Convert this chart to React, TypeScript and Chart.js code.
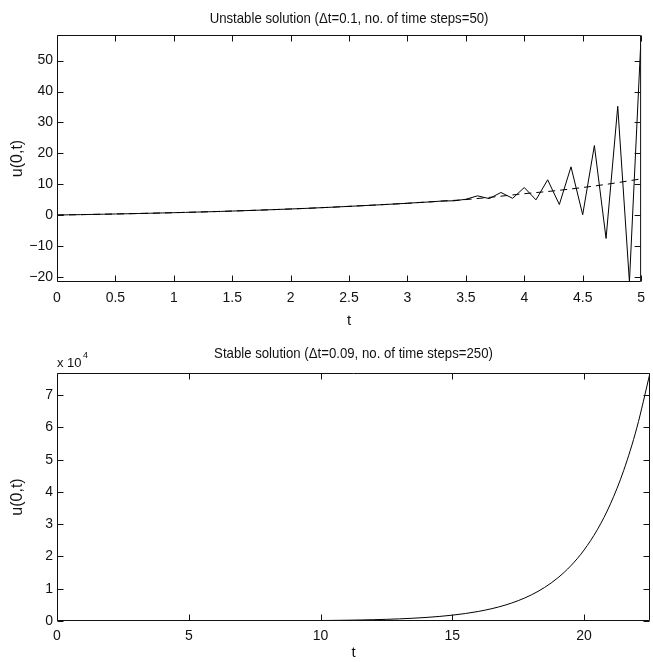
import React, { useEffect, useRef } from "react";
import { Chart, registerables } from "chart.js";
Chart.register(...registerables);

// ---------- data ----------
const unstableT = [
  0, 0.1, 0.2, 0.3, 0.4, 0.5, 0.6, 0.7, 0.8, 0.9,
  1.0, 1.1, 1.2, 1.3, 1.4, 1.5, 1.6, 1.7, 1.8, 1.9,
  2.0, 2.1, 2.2, 2.3, 2.4, 2.5, 2.6, 2.7, 2.8, 2.9,
  3.0, 3.1, 3.2, 3.3, 3.4, 3.5, 3.6, 3.7, 3.8, 3.9,
  4.0, 4.1, 4.2, 4.3, 4.4, 4.5, 4.6, 4.7, 4.8, 4.9, 5.0,
];
const unstableU = [
  0, 0.06, 0.12, 0.19, 0.26, 0.33, 0.41, 0.49, 0.57, 0.66,
  0.75, 0.85, 0.95, 1.05, 1.16, 1.28, 1.4, 1.53, 1.67, 1.81,
  1.95, 2.1, 2.26, 2.43, 2.61, 2.8, 2.99, 3.18, 3.38, 3.59,
  3.8, 4.05, 4.25, 4.55, 4.6, 5.1, 6.2, 5.3, 7.3, 5.4,
  8.9, 4.9, 11.4, 3.4, 15.6, 0.1, 22.5, -7.6, 35.2, -21.7, 58,
];
const exactT = [0, 0.25, 0.5, 0.75, 1, 1.25, 1.5, 1.75, 2, 2.25, 2.5, 2.75, 3, 3.25, 3.5, 3.75, 4, 4.25, 4.5, 4.75, 5];
const exactU = [0, 0.15, 0.33, 0.53, 0.75, 1.0, 1.28, 1.6, 1.95, 2.35, 2.8, 3.28, 3.8, 4.4, 5.0, 5.9, 6.9, 7.8, 8.9, 10.2, 11.7];

const stableT = [
  0, 0.5, 1, 1.5, 2, 2.5, 3, 3.5, 4, 4.5, 5, 5.5, 6, 6.5, 7, 7.5, 8, 8.5, 9, 9.5,
  10, 10.5, 11, 11.5, 12, 12.5, 13, 13.5, 14, 14.5, 15, 15.5, 16, 16.5, 17, 17.5,
  18, 18.5, 19, 19.5, 20, 20.5, 21, 21.5, 22, 22.5,
];
const stableU = [
  1, 1.28, 1.65, 2.12, 2.72, 3.49, 4.48, 5.75, 7.39, 9.49, 12.2, 15.6, 20.1, 25.8, 33.1, 42.5,
  54.6, 70.1, 90, 116, 148, 191, 245, 314, 403, 518, 665, 854, 1097, 1408, 1808, 2322,
  2981, 3828, 4915, 6311, 8103, 10405, 13360, 17154, 22026, 28283, 36316, 46630, 59874, 76880,
];

const topXTicks = [0, 0.5, 1, 1.5, 2, 2.5, 3, 3.5, 4, 4.5, 5];
const topYTicks = [-20, -10, 0, 10, 20, 30, 40, 50];
const botXTicks = [0, 5, 10, 15, 20];
const botYTicks = [0, 10000, 20000, 30000, 40000, 50000, 60000, 70000];

const topTitle = "Unstable solution (\u0394t=0.1, no. of time steps=50)";
const botTitle = "Stable solution (\u0394t=0.09, no. of time steps=250)";
const xLabel = "t";
const yLabel = "u(0,t)";

const FONT = '"Liberation Sans", Arial, Helvetica, sans-serif';
const INK = "#111";

type Cfg = {
  title: string;
  titleBaseline: number;
  xLabelBaseline: number;
  tickLen: number;
  exponent?: boolean;
};

function framePlugin(cfg: Cfg) {
  return {
    id: "frame",
    afterDatasetsDraw(chart: any) {
      const { ctx, chartArea: a, scales } = chart;
      const L = a.left + 0.5, R = a.right - 0.5, T = a.top + 0.5, B = a.bottom - 0.5;
      ctx.save();
      ctx.strokeStyle = INK;
      ctx.lineWidth = 1;
      ctx.beginPath();
      ctx.rect(L, T, R - L, B - T);
      ctx.stroke();
      ctx.beginPath();
      for (const t of scales.x.ticks) {
        const px = Math.round(scales.x.getPixelForValue(t.value)) + 0.5;
        ctx.moveTo(px, B);
        ctx.lineTo(px, B - cfg.tickLen);
        ctx.moveTo(px, T);
        ctx.lineTo(px, T + cfg.tickLen);
      }
      for (const t of scales.y.ticks) {
        const py = Math.round(scales.y.getPixelForValue(t.value)) + 0.5;
        ctx.moveTo(L, py);
        ctx.lineTo(L + cfg.tickLen, py);
        ctx.moveTo(R, py);
        ctx.lineTo(R - cfg.tickLen, py);
      }
      ctx.stroke();
      ctx.restore();
    },
    afterDraw(chart: any) {
      const { ctx, chartArea: a } = chart;
      ctx.save();
      ctx.fillStyle = INK;
      ctx.textAlign = "center";
      ctx.textBaseline = "alphabetic";
      // title: slightly condensed, like the reference's narrow Helvetica
      ctx.save();
      ctx.translate((a.left + a.right) / 2, cfg.titleBaseline);
      ctx.scale(0.88, 1);
      ctx.font = `15px ${FONT}`;
      ctx.fillText(cfg.title, 0, 0);
      ctx.restore();
      ctx.font = `15px ${FONT}`;
      ctx.fillText(xLabel, (a.left + a.right) / 2, cfg.xLabelBaseline);
      ctx.save();
      ctx.translate(18, (a.top + a.bottom) / 2);
      ctx.rotate(-Math.PI / 2);
      ctx.textBaseline = "middle";
      ctx.font = `16px ${FONT}`;
      ctx.fillText(yLabel, 0, 0);
      ctx.restore();
      if (cfg.exponent) {
        ctx.textAlign = "left";
        ctx.font = `13px ${FONT}`;
        ctx.fillText("x 10", a.left, a.top - 6);
        ctx.font = `9px ${FONT}`;
        ctx.fillText("4", a.left + 26, a.top - 15);
      }
      ctx.restore();
    },
  };
}

function fmt(v: number) {
  const s = String(+v.toFixed(3));
  return s.startsWith("-") ? "\u2212" + s.slice(1) : s;
}

function makeChart(
  canvas: HTMLCanvasElement,
  datasets: any[],
  x: { min: number; max: number; ticks: number[] },
  y: { min: number; max: number; ticks: number[]; div?: number },
  padTop: number,
  xHeight: number,
  labelPad: number,
  cfg: Cfg
) {
  return new Chart(canvas, {
    type: "line",
    data: { datasets },
    options: {
      animation: false,
      responsive: false,
      devicePixelRatio: 1,
      layout: { padding: { left: 0, right: 3, top: padTop, bottom: 0 } },
      plugins: { legend: { display: false }, title: { display: false }, tooltip: { enabled: false } },
      elements: { point: { radius: 0 } },
      scales: {
        x: {
          type: "linear",
          min: x.min,
          max: x.max,
          grid: { display: false, drawTicks: false },
          border: { display: false },
          afterBuildTicks: (s: any) => {
            s.ticks = x.ticks.map((v) => ({ value: v }));
          },
          afterFit: (s: any) => {
            s.height = xHeight;
          },
          ticks: {
            autoSkip: false,
            maxRotation: 0,
            padding: labelPad,
            color: INK,
            font: { family: FONT, size: 14 },
            callback: (v: any) => fmt(Number(v)),
          },
        },
        y: {
          type: "linear",
          min: y.min,
          max: y.max,
          grid: { display: false, drawTicks: false },
          border: { display: false },
          afterBuildTicks: (s: any) => {
            s.ticks = y.ticks.map((v) => ({ value: v }));
          },
          afterFit: (s: any) => {
            s.width = 57;
          },
          ticks: {
            autoSkip: false,
            padding: 4,
            color: INK,
            font: { family: FONT, size: 14 },
            callback: (v: any) => fmt(Number(v) / (y.div || 1)),
          },
        },
      },
    },
    plugins: [framePlugin(cfg)],
  } as any);
}

export default function App() {
  const topRef = useRef<HTMLCanvasElement>(null);
  const botRef = useRef<HTMLCanvasElement>(null);

  useEffect(() => {
    const top = makeChart(
      topRef.current!,
      [
        {
          data: unstableT.map((t, i) => ({ x: t, y: unstableU[i] })),
          borderColor: "#000",
          borderWidth: 1,
          tension: 0,
        },
        {
          data: exactT.map((t, i) => ({ x: t, y: exactU[i] })),
          borderColor: "#000",
          borderWidth: 1,
          borderDash: [7, 5],
          cubicInterpolationMode: "monotone",
        },
      ],
      { min: 0, max: 5, ticks: topXTicks },
      { min: -21.7, max: 58.3, ticks: topYTicks },
      35,
      49,
      8,
      { title: topTitle, titleBaseline: 22.5, xLabelBaseline: 325, tickLen: 6 }
    );
    const bot = makeChart(
      botRef.current!,
      [
        {
          data: stableT.map((t, i) => ({ x: t, y: stableU[i] })),
          borderColor: "#000",
          borderWidth: 1,
          cubicInterpolationMode: "monotone",
        },
      ],
      { min: 0, max: 22.5, ticks: botXTicks },
      { min: 0, max: 76880, ticks: botYTicks, div: 10000 },
      42,
      41,
      7,
      { title: botTitle, titleBaseline: 27, xLabelBaseline: 326, tickLen: 6, exponent: true }
    );
    return () => {
      top.destroy();
      bot.destroy();
    };
  }, []);

  return (
    <div style={{ position: "absolute", left: 0, top: 0, width: 653, height: 662, background: "#fff" }}>
      <canvas ref={topRef} width={653} height={331} style={{ display: "block", width: 653, height: 331 }} />
      <canvas ref={botRef} width={653} height={331} style={{ display: "block", width: 653, height: 331 }} />
    </div>
  );
}
